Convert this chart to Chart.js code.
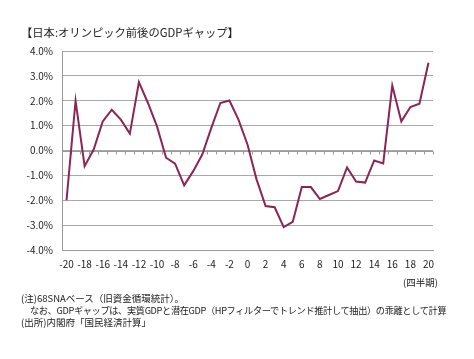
<!DOCTYPE html>
<html><head><meta charset="utf-8">
<script src="https://cdn.jsdelivr.net/npm/chart.js@4"></script>
<style>
html,body{margin:0;padding:0;background:#fff;}
#wrap{position:relative;width:474px;height:359px;overflow:hidden;}
canvas{position:absolute;left:0;top:0;}
.t{position:absolute;font-family:"Noto Sans CJK JP",sans-serif;color:#222;white-space:nowrap;line-height:1;}
</style></head><body>
<div id="wrap">
<canvas id="c" width="474" height="359"></canvas>
<div class="t" style="left:21px;top:27px;font-size:11.3px;">【日本:オリンピック前後のGDPギャップ】</div>
<div class="t" style="left:403px;top:278px;font-size:9.5px;">(四半期)</div>
<div class="t" style="left:21px;top:294px;font-size:9.5px;">(注)68SNAベース（旧資金循環統計）。</div>
<div class="t" style="left:30px;top:306px;font-size:9.2px;letter-spacing:-0.35px;">なお、GDPギャップは、実質GDPと潜在GDP（HPフィルターでトレンド推計して抽出）の乖離として計算</div>
<div class="t" style="left:21px;top:318px;font-size:9.5px;">(出所)内閣府「国民経済計算」</div>
</div>
<script>
const quarters = [];
for (let q = -20; q <= 20; q++) quarters.push(q);
const gdpGap = [
  -2.0, 2.0, -0.63, 0.04, 1.17, 1.64, 1.24, 0.68, 2.75, 1.91,
  0.97, -0.29, -0.53, -1.40, -0.83, -0.16, 0.91, 1.91, 2.01, 1.24,
  0.24, -1.16, -2.23, -2.28, -3.08, -2.87, -1.47, -1.47, -1.95, -1.79,
  -1.63, -0.68, -1.25, -1.29, -0.40, -0.52, 2.61, 1.17, 1.75, 1.88,
  3.53
];
const yTicks = [-4, -3, -2, -1, 0, 1, 2, 3, 4];

const zeroLine = {
  id: 'zeroLine',
  beforeDatasetsDraw(chart) {
    const ctx = chart.ctx, x = chart.scales.x, y = chart.scales.y;
    const y0 = Math.round(y.getPixelForValue(0)) + 0.5;
    ctx.save();
    ctx.strokeStyle = '#9a9a9a';
    ctx.lineWidth = 1;
    ctx.beginPath();
    ctx.moveTo(x.left, y0); ctx.lineTo(x.right, y0);
    const step = x.getPixelForValue(1) - x.getPixelForValue(0);
    for (let i = 0; i <= quarters.length; i++) {
      const px = Math.round(x.getPixelForValue(i) - step / 2) + 0.5;
      ctx.moveTo(px, y0); ctx.lineTo(px, y0 + 3);
    }
    ctx.stroke();
    ctx.restore();
  }
};

new Chart(document.getElementById('c'), {
  type: 'line',
  data: {
    labels: quarters.map(String),
    datasets: [{
      data: gdpGap,
      borderColor: '#8c2455',
      borderWidth: 2,
      pointRadius: 0,
      tension: 0,
      fill: false
    }]
  },
  options: {
    responsive: false,
    animation: false,
    devicePixelRatio: 1,
    layout: { padding: { left: 0, top: 51, right: 41, bottom: 89 } },
    plugins: { legend: { display: false }, tooltip: { enabled: false } },
    scales: {
      x: {
        type: 'category',
        offset: true,
        grid: { display: false, drawTicks: false },
        border: { display: true, color: '#9a9a9a', width: 1 },
        ticks: {
          autoSkip: false, maxRotation: 0, minRotation: 0, padding: 8,
          color: '#222', font: { family: 'Noto Sans CJK JP', size: 10 },
          callback: (v, i) => (quarters[i] % 2 === 0 ? String(quarters[i]) : '')
        },
        afterFit(s) { s.height = 20; }
      },
      y: {
        min: -4, max: 4,
        afterBuildTicks(s) { s.ticks = yTicks.map(v => ({ value: v })); },
        grid: { color: '#a8a8a8', lineWidth: 1, drawTicks: false },
        border: { display: true, color: '#9a9a9a', width: 1 },
        ticks: {
          padding: 9, color: '#222', font: { family: 'Noto Sans CJK JP', size: 10 },
          callback: v => v.toFixed(1) + '%'
        },
        afterFit(s) { s.width = 62; }
      }
    }
  },
  plugins: [zeroLine]
});
</script>
</body></html>
